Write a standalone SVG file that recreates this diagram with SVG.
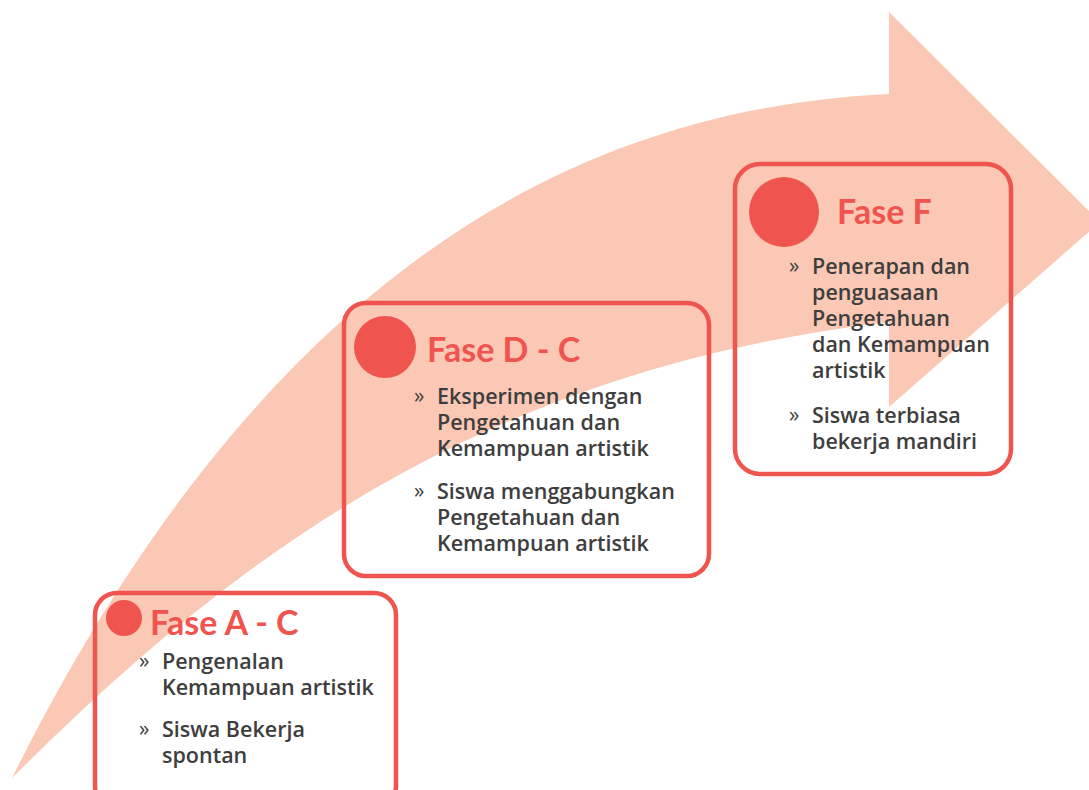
<svg xmlns="http://www.w3.org/2000/svg" width="1089" height="790" viewBox="0 0 1089 790">
<style>
.band{fill:#FAC8B4}
.box{fill:none;stroke:#F0544F;stroke-width:4.5}
.dot{fill:#F0544F}
.title{font-family:Lato,"Open Sans",sans-serif;font-weight:bold;font-size:34px;fill:#F0544F}
.body{font-family:"Open Sans",Lato,sans-serif;font-weight:600;font-size:21.5px;fill:#3E3E3E}
.bul{font-family:"Open Sans",Lato,sans-serif;font-size:21px;fill:#3E3E3E}
</style>
<rect width="1089" height="790" fill="#ffffff"/>
<g id="arrow">
<path class="band" d="M12,778 C250,300 550,110 889,94 L889,12 L1100,222 L889,407 L889,322 C480,370 230,560 12,778 Z"/>
</g>
<g id="connectors"></g>
<g id="node-a">
<rect class="box" x="95" y="593" width="301" height="215" rx="22"/>
<circle class="dot" cx="124" cy="618" r="18"/>
<text class="title" x="150" y="635">Fase A - C</text>
<text class="bul" x="139" y="668">»</text>
<text class="body"><tspan x="162" y="669">Pengenalan</tspan><tspan x="162" y="695">Kemampuan artistik</tspan></text>
<text class="bul" x="139" y="736">»</text>
<text class="body"><tspan x="162" y="737">Siswa Bekerja</tspan><tspan x="162" y="763">spontan</tspan></text>
</g>
<g id="node-d">
<rect class="box" x="344" y="303" width="365" height="273" rx="22"/>
<circle class="dot" cx="385" cy="347" r="31"/>
<text class="title" x="427" y="362">Fase D - C</text>
<text class="bul" x="414" y="403">»</text>
<text class="body"><tspan x="437" y="404">Eksperimen dengan</tspan><tspan x="437" y="430">Pengetahuan dan</tspan><tspan x="437" y="456">Kemampuan artistik</tspan></text>
<text class="bul" x="414" y="498">»</text>
<text class="body"><tspan x="437" y="499">Siswa menggabungkan</tspan><tspan x="437" y="525">Pengetahuan dan</tspan><tspan x="437" y="551">Kemampuan artistik</tspan></text>
</g>
<g id="node-f">
<rect class="box" x="735" y="164" width="276" height="310" rx="25"/>
<circle class="dot" cx="784" cy="212" r="35"/>
<text class="title" x="837" y="224">Fase F</text>
<text class="bul" x="789" y="273">»</text>
<text class="body"><tspan x="812" y="274">Penerapan dan</tspan><tspan x="812" y="300">penguasaan</tspan><tspan x="812" y="326">Pengetahuan</tspan><tspan x="812" y="352">dan Kemampuan</tspan><tspan x="812" y="378">artistik</tspan></text>
<text class="bul" x="789" y="422">»</text>
<text class="body"><tspan x="812" y="423">Siswa terbiasa</tspan><tspan x="812" y="449">bekerja mandiri</tspan></text>
</g>
</svg>
